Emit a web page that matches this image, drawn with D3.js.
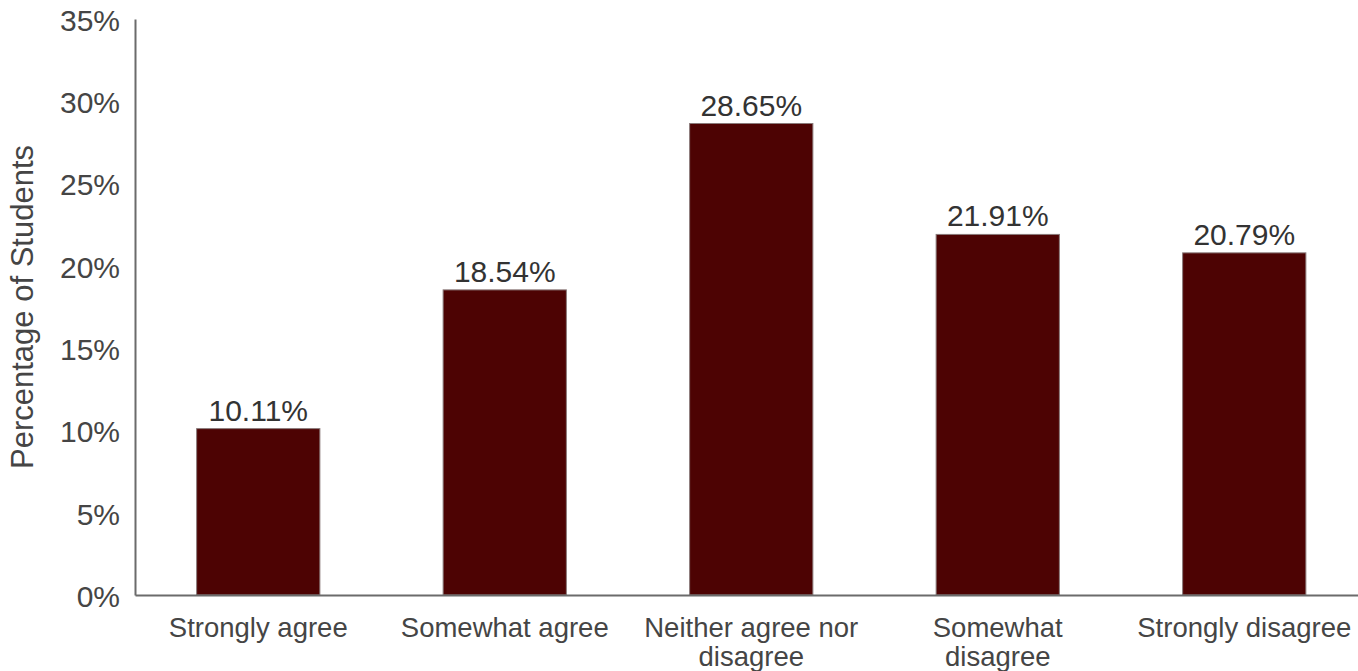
<!DOCTYPE html>
<html>
<head>
<meta charset="utf-8">
<script src="https://cdn.jsdelivr.net/npm/d3@7"></script>
<style>
  html, body { margin: 0; padding: 0; background: #ffffff; }
  svg { display: block; font-family: "Liberation Sans", Arial, sans-serif; }
</style>
</head>
<body>
<svg id="chart" width="1358" height="671"></svg>
<script>
// Survey responses and the share of students choosing each
const categories = ["Strongly agree", "Somewhat agree", "Neither agree nor disagree", "Somewhat disagree", "Strongly disagree"];
const percentages = [10.11, 18.54, 28.65, 21.91, 20.79];
const yTicks = [0, 5, 10, 15, 20, 25, 30, 35];
const yTitle = "Percentage of Students";

const svg = d3.select("#chart");
const plotLeft = 135, plotRight = 1367.5, plotTop = 19, plotBottom = 595;

const x = d3.scaleBand()
  .domain(categories)
  .range([plotLeft, plotRight])
  .paddingInner(0.5)
  .paddingOuter(0.25);

const y = d3.scaleLinear()
  .domain([0, 35])
  .range([plotBottom, plotTop]);

// Bars
svg.append("g")
  .selectAll("rect")
  .data(percentages)
  .join("rect")
  .attr("x", (d, i) => x(categories[i]))
  .attr("y", d => y(d))
  .attr("width", x.bandwidth())
  .attr("height", d => y(0) - y(d))
  .attr("fill", "#4d0303")
  .attr("stroke", "#8a7a7a")
  .attr("stroke-width", 1);

// Value labels above bars
svg.append("g")
  .selectAll("text")
  .data(percentages)
  .join("text")
  .attr("x", (d, i) => x(categories[i]) + x.bandwidth() / 2)
  .attr("y", d => y(d) - 8)
  .attr("text-anchor", "middle")
  .attr("font-size", 30)
  .attr("fill", "#333333")
  .text(d => d.toFixed(2) + "%");

// Y axis
const yAxis = d3.axisLeft(y)
  .tickValues(yTicks)
  .tickFormat(d => d + "%")
  .tickSize(0)
  .tickPadding(15);

const gy = svg.append("g")
  .attr("transform", `translate(${plotLeft},0)`)
  .call(yAxis);
gy.select(".domain").attr("stroke", "#6b6b6b").attr("stroke-width", 2);
gy.selectAll("text")
  .attr("font-size", 30)
  .attr("font-family", "Liberation Sans, Arial, sans-serif")
  .attr("fill", "#454545")
  .attr("dy", "0.38em");

// X axis
const xAxis = d3.axisBottom(x).tickSize(0).tickPadding(0);
const gx = svg.append("g")
  .attr("transform", `translate(0,${plotBottom})`)
  .call(xAxis);
gx.select(".domain").attr("stroke", "#6b6b6b").attr("stroke-width", 2);
gx.selectAll("text")
  .attr("font-size", 27.5)
  .attr("font-family", "Liberation Sans, Arial, sans-serif")
  .attr("fill", "#454545")
  .attr("y", 42)
  .attr("dy", 0)
  .call(wrap, x.step() * 0.95);

function wrap(texts, width) {
  texts.each(function () {
    const text = d3.select(this);
    const words = text.text().split(/\s+/);
    const yPos = text.attr("y");
    text.text(null);
    let line = [];
    let lineNo = 0;
    let tspan = text.append("tspan").attr("x", 0).attr("y", yPos);
    for (const w of words) {
      line.push(w);
      tspan.text(line.join(" "));
      if (tspan.node().getComputedTextLength() > width && line.length > 1) {
        line.pop();
        tspan.text(line.join(" "));
        line = [w];
        lineNo += 1;
        tspan = text.append("tspan")
          .attr("x", 0)
          .attr("y", +yPos + lineNo * 29)
          .text(w);
      }
    }
  });
}

// Y axis title
svg.append("text")
  .attr("transform", `translate(33,${(plotTop + plotBottom) / 2}) rotate(-90)`)
  .attr("text-anchor", "middle")
  .attr("font-size", 31)
  .attr("fill", "#454545")
  .text(yTitle);
</script>
</body>
</html>
